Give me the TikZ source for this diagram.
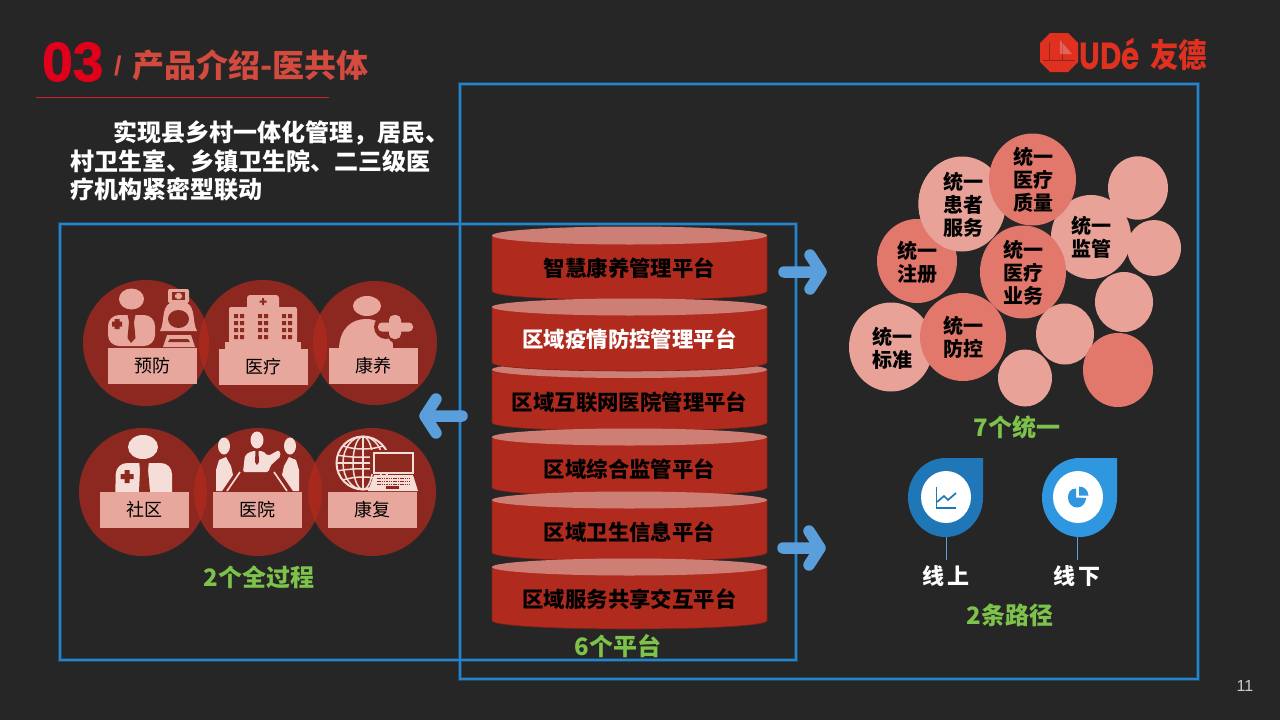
\documentclass[tikz,border=0pt]{standalone}
\usepackage{fontspec}
\setmainfont{Liberation Sans}
\newfontfamily\numfont{Liberation Sans}[BoldFeatures={FakeBold=1.6}]
\newfontfamily\cjk{Noto Sans CJK SC}
\newfontfamily\udefont{Poppins}
\newcommand\fsz[1]{\fontsize{#1}{#1}\selectfont}
\definecolor{bgc}{HTML}{262626}
\definecolor{framec}{HTML}{2D82C4}
\definecolor{glowc}{HTML}{1A4A6C}
\definecolor{circc}{HTML}{B02A1E}
\definecolor{icona}{HTML}{E8A79C}
\definecolor{iconb}{HTML}{F5DDD8}
\definecolor{labc}{HTML}{E8A79C}
\definecolor{cylc}{HTML}{B02B1E}
\definecolor{cyltop}{HTML}{CD7F76}
\definecolor{cyledge}{HTML}{7E1F16}
\definecolor{lightc}{HTML}{E8A298}
\definecolor{darkc}{HTML}{E2776B}
\definecolor{arrowc}{HTML}{5A9FDC}
\definecolor{greenc}{HTML}{7DC24B}
\definecolor{titlec}{HTML}{D24B3E}
\definecolor{numc}{HTML}{E0001B}
\definecolor{rulec}{HTML}{C8202C}
\definecolor{logoc}{HTML}{E03020}
\definecolor{dropa}{HTML}{1F77B8}
\definecolor{dropb}{HTML}{2F96E0}
\definecolor{iconred}{HTML}{8D2A20}
\tikzset{
 bigcirc/.style={fill=circc,fill opacity=.75},
 lab/.style={fill=labc,minimum width=89,minimum height=36,inner sep=0,text=black,font=\cjk\fsz{18}},
 platlab/.style={font=\cjk\bfseries\fsz{21.4},text=black},
 unitext/.style={font=\cjk\bfseries\fsz{20},text=black,align=center},
 greenlab/.style={font=\cjk\bfseries\fsz{24},text=greenc},
 paralab/.style={font=\cjk\bfseries\fsz{24},text=white,anchor=west,inner sep=0},
 frameglow/.style={draw=glowc,line width=4.4},
 frameline/.style={draw=framec,line width=2.6},
 blockarrow/.style={draw=arrowc,line width=11.5,line cap=round,line join=round},
 lt/.style={fill=lightc},
 dk/.style={fill=darkc},
}
\newcommand\cyl[6]{% name, top centre y, lowest y, ry, text colour, text y
 \path[fill=cylc,draw=cyledge,line width=.6] (492,#2) -- (492,#3-#4) .. controls (492,#3+.33*#4) and (767,#3+.33*#4) .. (767,#3-#4) -- (767,#2) -- cycle;
 \path[fill=cyltop] (629.5,#2) ellipse [x radius=137.5,y radius=#4];
 \node[platlab,text=#5] (#1) at (629.5,#6) {\csname plat#1\endcsname};
}
\expandafter\def\csname platpa\endcsname{智慧康养管理平台}
\expandafter\def\csname platpb\endcsname{区域疫情防控管理平台}
\expandafter\def\csname platpc\endcsname{区域互联网医院管理平台}
\expandafter\def\csname platpd\endcsname{区域综合监管平台}
\expandafter\def\csname platpe\endcsname{区域卫生信息平台}
\expandafter\def\csname platpf\endcsname{区域服务共享交互平台}
\begin{document}
\begin{tikzpicture}[x=1pt,y=-1pt]
\useasboundingbox (0,0) rectangle (1280,720);
\fill[bgc] (0,0) rectangle (1280,720);

% frames
\draw[frameglow] (60,224) rectangle (796,660);
\draw[frameglow] (460,84) rectangle (1198,679);
\draw[frameline] (60,224) rectangle (796,660);
\draw[frameline] (460,84) rectangle (1198,679);

% title
\node[font=\numfont\bfseries\fsz{55},text=numc,inner sep=0,anchor=west] (num) at (42,62) {03};
\node[font=\bfseries\fsz{27},text=titlec,inner sep=0,anchor=west] (slash) at (114,66) {/};
\node[font=\cjk\bfseries\fsz{32},text=titlec,inner sep=0,anchor=west] (title) at (132,65) {产品介绍-医共体};
\draw[draw=rulec,line width=1.4] (36,97.5) -- (329,97.5);

% paragraph
\node[paralab] (pa) at (113,133) {实现县乡村一体化管理，居民、};
\node[paralab] (pb) at (70,161) {村卫生室、乡镇卫生院、二三级医};
\node[paralab] (pc) at (70,189) {疗机构紧密型联动};

% logo
\fill[logoc] (1050,33) -- (1068,33) -- (1078,43) -- (1078,62) -- (1068,72) -- (1050,72) -- (1040,62) -- (1040,43) -- cycle;
\draw[iconred,line width=.9] (1049,42) -- (1049,60) (1062,42) -- (1062,60) (1043,60) -- (1075,60);
\fill[white,opacity=.25] (1060,40) -- (1072,54) -- (1060,54) -- cycle;
\node[font=\udefont\bfseries\fsz{36},text=logoc,inner sep=0,anchor=west] (ude) at (1079,54) {\scalebox{.82}[1.05]{UDé}};
\node[font=\cjk\bfseries\fsz{28.5},text=logoc,inner sep=0,anchor=west] (ude2) at (1150,55) {\scalebox{1}[1.15]{友德}};

% left circles
\path[bigcirc] (146,343) circle [radius=63];
\path[bigcirc] (263,344) circle [radius=64];
\path[bigcirc] (375,343) circle [radius=62];
\path[bigcirc] (143,492) circle [radius=64];
\path[bigcirc] (258,492) circle [radius=64];
\path[bigcirc] (372,492) circle [radius=64];

% icon: doctor (top)
\fill[icona] (131.5,299) ellipse [x radius=12.5,y radius=10.5];
\fill[icona,rounded corners=11] (108,315) rectangle (155,346);
\fill[iconred] (127,312) -- (136,312) -- (134,322) -- (135.5,338) -- (131,343) -- (127.5,338) -- (129,322) -- cycle;
\fill[iconred] (114.5,319) rectangle (119.5,329) (112,321.5) rectangle (122,326.5);
% icon: nurse
\fill[icona,rounded corners=2] (168,289) rectangle (189,303);
\fill[iconred] (172,292) rectangle (185,300);
\fill[icona] (176.5,293) rectangle (180.5,299) (175,294.5) rectangle (182,297.5);
\fill[icona] (170,303) -- (187,303) .. controls (196,308) and (192,322) .. (197,331) -- (160,331) .. controls (165,322) and (161,308) .. (170,303) -- cycle;
\fill[iconred] (178.5,319) ellipse [x radius=10.5,y radius=9];
\fill[icona] (167,335) -- (191,335) -- (195,347) -- (163,347) -- cycle;
\fill[iconred] (170,339) -- (188,339) -- (190,342) -- (168,342) -- cycle;

% icon: hospital
\fill[icona,rounded corners=2] (229,307) rectangle (297,344);
\fill[icona,rounded corners=3] (247,295) rectangle (279,310);
\fill[icona] (225,342) rectangle (301,349);
\fill[iconred] (262,298) rectangle (264,305) (259.5,300.5) rectangle (266.5,302.5);
\foreach \cx in {239,263,287}{\foreach \cy in {316,323,330,337}{
  \fill[iconred] (\cx-5,\cy-2) rectangle (\cx-1,\cy+2) (\cx+1,\cy-2) rectangle (\cx+5,\cy+2);}}

% icon: person plus
\fill[icona] (367,306) ellipse [x radius=14,y radius=10];
\fill[icona] (339,348) .. controls (340,328) and (352,319) .. (366,319) .. controls (382,319) and (393,330) .. (393,348) -- cycle;
\fill[iconred] (386,327) circle [radius=12];
\fill[iconred] (396,335) circle [radius=8];
\fill[icona,rounded corners=4] (378,322.5) rectangle (413,331.5);
\fill[icona,rounded corners=5] (389,315) rectangle (401,339);

% icon: doctor (bottom)
\fill[iconb] (143,447) ellipse [x radius=15,y radius=12];
\fill[iconb,rounded corners=11] (116,463) -- (172,463) -- (172,505) -- (115,505) -- cycle;
\fill[iconred] (139,461) -- (149,461) -- (148,470) -- (150,492) -- (139,492) -- (140,470) -- cycle;
\fill[iconred] (124.5,470) rectangle (129.5,483) (120.5,474) rectangle (133.5,479);

% icon: meeting
\fill[iconb] (257,440) ellipse [x radius=6.5,y radius=8.5];
\fill[iconb,rounded corners=2] (243,472) -- (245,455) -- (252,451) -- (263,451) -- (268,456) -- (279,450) -- (281,456) -- (270,466) -- (269,472) -- cycle;
\fill[iconred] (255.5,451) -- (258.5,451) -- (259,462) -- (257,465) -- (255,462) -- cycle;
\fill[iconb] (224,446) ellipse [x radius=6,y radius=8.5];
\fill[iconb] (216,491) -- (216,470) -- (219,460) -- (226,457) -- (231,466) -- (233,475) -- (222,491) -- cycle;
\fill[iconb] (290,446) ellipse [x radius=6,y radius=8.5];
\fill[iconb] (299,491) -- (299,470) -- (296,460) -- (289,457) -- (284,466) -- (282,475) -- (293,491) -- cycle;
\draw[iconb,line width=1.6] (240,472) -- (227,491) (274,472) -- (287,491);

% icon: globe with laptop
\draw[iconb,line width=2] (363,463) circle [radius=26.5];
\draw[iconb,line width=1.5] (363,463) ellipse [x radius=10,y radius=26.5];
\draw[iconb,line width=1.5] (363,463) ellipse [x radius=20,y radius=26.5];
\draw[iconb,line width=1.5] (363,436.5) -- (363,489.5) (336.5,463) -- (389.5,463);
\draw[iconb,line width=1.5] (343,446) .. controls (355,450) and (371,450) .. (383,446);
\draw[iconb,line width=1.5] (337,455) .. controls (352,458) and (374,458) .. (389,455);
\draw[iconb,line width=1.5] (337,471) .. controls (352,468) and (374,468) .. (389,471);
\draw[iconb,line width=1.5] (343,480) .. controls (355,476) and (371,476) .. (383,480);
\fill[iconred] (370,450) rectangle (417,474);
\draw[iconb,line width=1.8] (374,453) rectangle (413,473);
\fill[iconb] (374,475) -- (413,475) -- (418,491) -- (368,491) -- cycle;
\foreach \ky in {478,481,484}{\draw[iconred,line width=1,dash pattern=on 1.5 off .8] (377,\ky) -- (410,\ky);}
\fill[iconred] (386,486) rectangle (399,489);

% labels
\node[lab] (yf) at (152.5,366) {预防};
\node[lab] (yl) at (263.5,367) {医疗};
\node[lab] (ky) at (373.5,366) {康养};
\node[lab] (sq) at (144.5,510) {社区};
\node[lab] (yy) at (257.5,510) {医院};
\node[lab] (kf) at (372.5,510) {康复};
\node[greenlab] (gq) at (259,577) {2个全过程};

% cylinders
\cyl{pa}{235.5}{300}{9}{black}{268}
\cyl{pc}{369.5}{431}{8.5}{black}{402.5}
\cyl{pb}{307}{371}{8.5}{white}{339}
\cyl{pd}{437}{496}{8.5}{black}{469}
\cyl{pe}{500}{561}{8.5}{black}{532}
\cyl{pf}{567}{629}{8.5}{black}{599}
\node[greenlab] (six) at (618,646) {6个平台};

% arrows
\draw[blockarrow] (784,272) -- (821,272) (810,255) -- (821,272) -- (810,289);
\draw[blockarrow] (783,548) -- (820,548) (809,531) -- (820,548) -- (809,565);
\draw[blockarrow] (462,416) -- (425,416) (436,399) -- (425,416) -- (436,433);

% right circles
\path[lt] (1138,188) ellipse [x radius=30,y radius=31.7];
\path[lt] (1091,237) ellipse [x radius=40,y radius=42];
\path[lt] (1154,248) ellipse [x radius=27,y radius=28];
\path[dk] (917,261) ellipse [x radius=40,y radius=42];
\path[lt] (962,204) ellipse [x radius=43.7,y radius=47.5];
\path[dk] (1032.5,179.5) ellipse [x radius=43.5,y radius=46];
\path[dk] (1023,272) ellipse [x radius=43,y radius=46.5];
\path[lt] (1124,302) ellipse [x radius=29,y radius=30];
\path[lt] (891,347) ellipse [x radius=42,y radius=44.5];
\path[dk] (963,337) ellipse [x radius=43,y radius=44];
\path[lt] (1065,334) ellipse [x radius=29,y radius=30.5];
\path[lt] (1025,378) ellipse [x radius=27,y radius=28.5];
\path[dk] (1118,370) ellipse [x radius=35,y radius=37];
\node[unitext] (u1) at (1033,180) {统一\\[3pt]医疗\\[3pt]质量};
\node[unitext] (u2) at (963,205) {统一\\[3pt]患者\\[3pt]服务};
\node[unitext] (u3) at (1091,237) {统一\\[3pt]监管};
\node[unitext] (u4) at (917,262) {统一\\[3pt]注册};
\node[unitext] (u5) at (1023,273) {统一\\[3pt]医疗\\[3pt]业务};
\node[unitext] (u6) at (963,337) {统一\\[3pt]防控};
\node[unitext] (u7) at (892,348) {统一\\[3pt]标准};
\node[greenlab] (seven) at (1017,427) {7个统一};

% droplets
\fill[dropa] (983,458) -- (945.5,458) .. controls (924.8,458) and (908,475.7) .. (908,497.5) .. controls (908,519.3) and (924.8,537) .. (945.5,537) .. controls (966.2,537) and (983,519.3) .. (983,497.5) -- cycle;
\fill[dropb] (1117,458) -- (1079.5,458) .. controls (1058.8,458) and (1042,475.7) .. (1042,497.5) .. controls (1042,519.3) and (1058.8,537) .. (1079.5,537) .. controls (1100.2,537) and (1117,519.3) .. (1117,497.5) -- cycle;
\fill[white] (946,497) ellipse [x radius=25,y radius=26];
\fill[white] (1078,497) ellipse [x radius=25,y radius=26];
\draw[dropa,line width=1.7] (936.5,487) -- (936.5,508) -- (956,508);
\draw[dropa,line width=1.7] (937,502) -- (944,496) -- (948,500) -- (956,493);
\fill[dropb] (1076,497.5) -- (1076,488.5) .. controls (1070,488.5) and (1068,493) .. (1068,498) .. controls (1068,503) and (1072,507.5) .. (1077,507.5) .. controls (1082,507.5) and (1086,503) .. (1086,498) -- cycle;
\fill[dropb] (1079,486.5) .. controls (1084,486.5) and (1088,490) .. (1088.5,495.5) -- (1079,495.5) -- cycle;
\coordinate (da) at (946,537);
\coordinate (db) at (1077,537);
\node[font=\cjk\bfseries\fsz{22},text=white,inner sep=0] (xs) at (946,576) {线\,上};
\node[font=\cjk\bfseries\fsz{22},text=white,inner sep=0] (xx) at (1077,576) {线\,下};
\coordinate (dae) at (946,560);
\coordinate (dbe) at (1077,560);
\draw[arrowc,line width=.9] (da) -- (dae);
\draw[arrowc,line width=.9] (db) -- (dbe);
\node[greenlab] (two) at (1010,615) {2条路径};

% page number
\node[font=\fsz{16},text=white!80!black,inner sep=0] (pg) at (1245,686) {11};
\end{tikzpicture}
\end{document}
